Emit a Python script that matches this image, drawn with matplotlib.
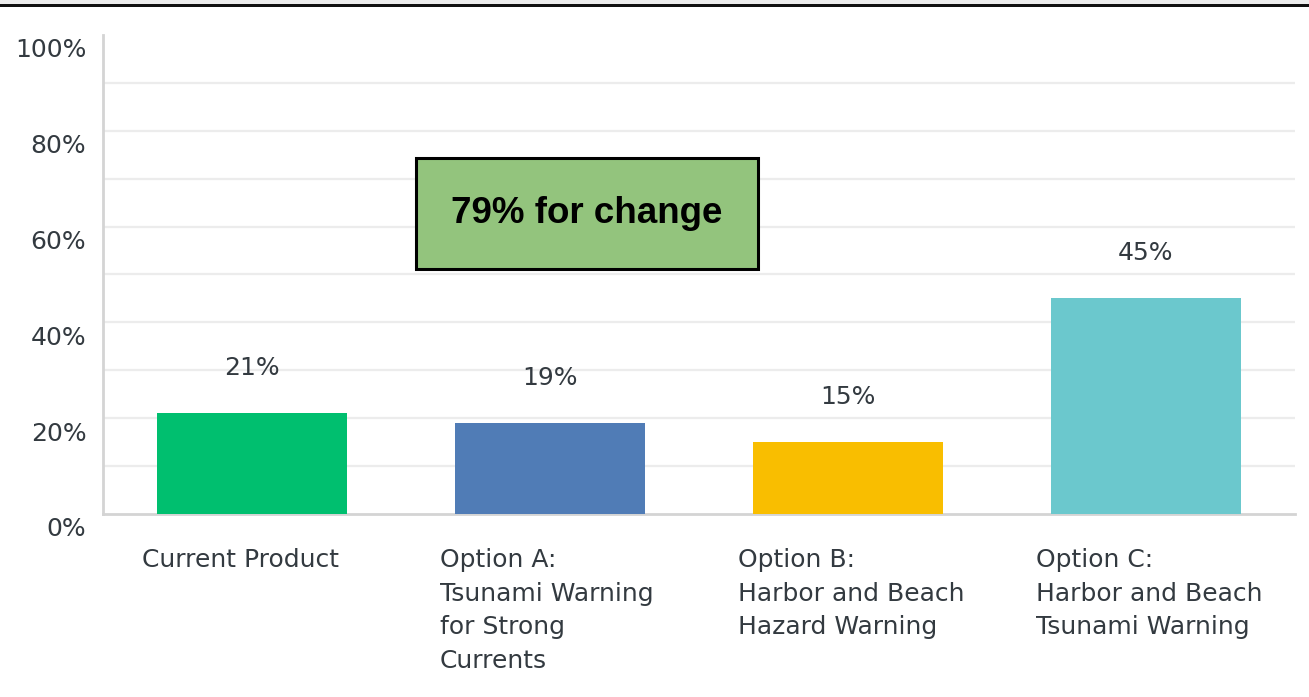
import matplotlib.pyplot as plt
import matplotlib.transforms as mtransforms
from matplotlib.patches import Rectangle

categories = [
    "Current Product",
    "Option A:\nTsunami Warning\nfor Strong\nCurrents",
    "Option B:\nHarbor and Beach\nHazard Warning",
    "Option C:\nHarbor and Beach\nTsunami Warning",
]
values = [21, 19, 15, 45]
colors = ["#00BF6F", "#507CB6", "#F9BE00", "#6BC8CD"]
yticks = [0, 20, 40, 60, 80, 100]
callout = "79% for change"

plt.rcParams["font.family"] = "DejaVu Sans"
fig = plt.figure(figsize=(13.09, 6.97), dpi=100)
ax = fig.add_axes([0.0787, 0.2626, 0.9106, 0.6872])

# thin frame strip at the very top of the screenshot
fig.patches.append(Rectangle((0, 0.9943), 1, 0.0057, transform=fig.transFigure,
                             facecolor="#ececec", edgecolor="none"))
fig.patches.append(Rectangle((0, 0.990), 1, 0.0043, transform=fig.transFigure,
                             facecolor="#111111", edgecolor="none"))

width = 0.64
x = range(len(values))
ax.bar(x, values, width=width, color=colors, zorder=3)

for i, v in zip(x, values):
    ax.annotate(f"{v}%", (i, v), xytext=(0, 45), textcoords="offset pixels",
                ha="center", va="center", fontsize=18, color="#333a40")

ax.set_xlim(-0.5, 3.5)
ax.set_ylim(0, 100)
for g in range(10, 100, 10):
    ax.axhline(g, color="#ececec", lw=1.6, zorder=1)

ax.set_yticks(yticks)
ax.set_yticklabels([f"{t}%" for t in yticks], fontsize=18, color="#333a40")
ax.tick_params(axis="y", length=0, pad=12)
offset = mtransforms.ScaledTranslation(0, -13 / 100, fig.dpi_scale_trans)
for lab in ax.get_yticklabels():
    lab.set_transform(lab.get_transform() + offset)

ax.set_xticks([])
trans = mtransforms.blended_transform_factory(ax.transData, ax.transAxes)
for i, name in zip(x, categories):
    ax.text(i - width / 2 - 0.05, -0.072, name, transform=trans, ha="left", va="top",
            fontsize=18, color="#333a40", linespacing=1.5)

for side in ["top", "right"]:
    ax.spines[side].set_visible(False)
for side in ["left", "bottom"]:
    ax.spines[side].set_color("#d4d4d4")
    ax.spines[side].set_linewidth(2)

ax.add_patch(Rectangle((0.2626, 0.511), 0.2869, 0.232, transform=ax.transAxes,
                       facecolor="#93C47D", edgecolor="black", lw=2.2, zorder=5))
ax.text(0.2626 + 0.2869 / 2, 0.511 + 0.116, callout, transform=ax.transAxes,
        ha="center", va="center", fontsize=26.5, fontweight="bold",
        family="Liberation Sans", color="black", zorder=6)

plt.savefig("out.png", dpi=100)
